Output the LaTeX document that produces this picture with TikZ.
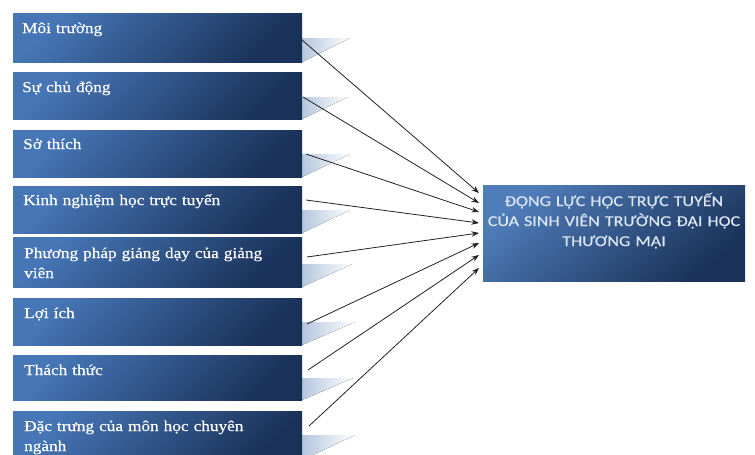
\documentclass[tikz,border=0pt]{standalone}
\usepackage{fontspec}
\setmainfont{Liberation Serif}[FakeStretch=1.15,FakeBold=0.35]
\newfontfamily\calfont{Carlito}[FakeStretch=1.2,FakeBold=0.4]
\usetikzlibrary{arrows.meta}
\definecolor{boxlight}{HTML}{4676B6}
\definecolor{boxdark}{HTML}{1A3259}
\definecolor{wedgec}{HTML}{B5C6DE}
\definecolor{ttext}{HTML}{DDE7F4}
\definecolor{arrowc}{HTML}{222222}
\begin{document}
\begin{tikzpicture}[x=1pt,y=-1pt,
  factor/.style={rectangle, anchor=north west, inner sep=0pt,
    top color=boxlight, bottom color=boxdark, shading angle=45,
    minimum width=289pt},
  ftext/.style={anchor=base west, inner sep=0pt, text=white,
    font=\fontsize{15}{20}\selectfont, text width=270pt, align=left},
  target/.style={rectangle, anchor=north west, inner sep=0pt,
    top color=boxlight!95!white, bottom color=boxdark, shading angle=40,
    minimum width=262pt, minimum height=96pt},
  ttxt/.style={anchor=base, inner sep=0pt, text=ttext,
    font=\calfont\fontsize{15}{20}\selectfont, text width=280pt, align=center},
  wedge/.style={left color=wedgec, right color=white},
  arr/.style={draw=arrowc, line width=0.8pt, -{Stealth[length=7.5pt,width=5.5pt]}}]
\useasboundingbox (0,0) rectangle (755,455);
\clip (0,0) rectangle (755,455);

% wedges
\fill[wedge] (302,38) -- (350,38) -- (302,62) -- cycle;
\fill[wedge] (302,97) -- (348,97) -- (302,119) -- cycle;
\fill[wedge] (302,154) -- (350,154) -- (302,177) -- cycle;
\fill[wedge] (302,210) -- (350,210) -- (302,233) -- cycle;
\fill[wedge] (302,264) -- (352,264) -- (302,287) -- cycle;
\fill[wedge] (302,322) -- (355,322) -- (302,345) -- cycle;
\fill[wedge] (302,378) -- (353,378) -- (302,400) -- cycle;
\fill[wedge] (302,435) -- (355,435) -- (302,460) -- cycle;

% factor boxes
\node[factor, minimum height=49pt] (b1) at (13,13) {};
\node[factor, minimum height=47pt] (b2) at (13,72) {};
\node[factor, minimum height=47pt] (b3) at (13,130) {};
\node[factor, minimum height=47pt] (b4) at (13,186) {};
\node[factor, minimum height=50pt] (b5) at (13,237) {};
\node[factor, minimum height=47pt] (b6) at (13,298) {};
\node[factor, minimum height=45pt] (b7) at (13,355) {};
\node[factor, minimum height=50pt] (b8) at (13,411) {};

\node[ftext] (l1) at (22,33) {Môi trường};
\node[ftext] (l2) at (22,92) {Sự chủ động};
\node[ftext] (l3) at (23,149) {Sở thích};
\node[ftext] (l4) at (23,205) {Kinh nghiệm học trực tuyến};
\node[ftext] (l5) at (24,258) {Phương pháp giảng dạy của giảng\\viên};
\node[ftext] (l6) at (24,318) {Lợi ích};
\node[ftext] (l7) at (24,375) {Thách thức};
\node[ftext] (l8) at (24,431) {Đặc trưng của môn học chuyên\\ngành};

% target box
\node[target] (t) at (483,185) {};
\node[ttxt] (tl) at (614,206) {ĐỘNG LỰC HỌC TRỰC TUYẾN\\CỦA SINH VIÊN TRƯỜNG ĐẠI HỌC\\THƯƠNG MẠI};

% connector end points
\coordinate (s1) at (302,40);
\coordinate (s2) at (303,97);
\coordinate (s3) at (306,154);
\coordinate (s4) at (306,200);
\coordinate (s5) at (307,257);
\coordinate (s6) at (307,324);
\coordinate (s7) at (308,370);
\coordinate (s8) at (309,426);
\coordinate (e1) at (479,193);
\coordinate (e2) at (479,203);
\coordinate (e3) at (479,212);
\coordinate (e4) at (479,223);
\coordinate (e5) at (479,233);
\coordinate (e6) at (479,243);
\coordinate (e7) at (479,255);
\coordinate (e8) at (479,268);

\foreach \i in {1,...,8} \draw[arr] (s\i) -- (e\i);
\end{tikzpicture}
\end{document}
